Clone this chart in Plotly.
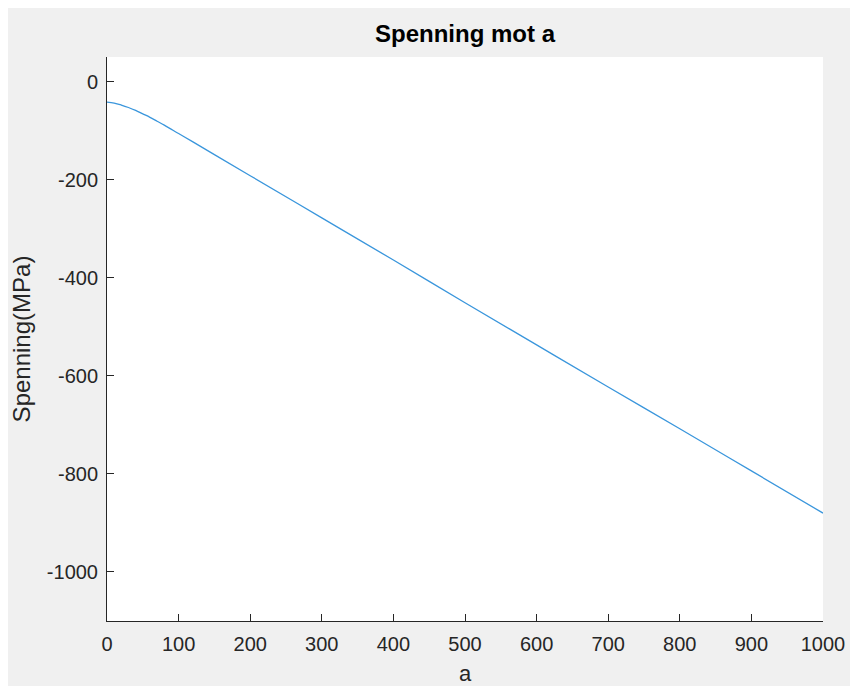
import plotly.graph_objects as go

# Data
a_values = [0, 10, 20, 30, 40, 50, 60, 70, 80, 100, 120, 150, 200, 300, 400,
            500, 600, 700, 800, 900, 1000]
spenning = [-42, -44, -48, -53, -59, -66, -73, -81, -89, -106, -123, -149, -192,
            -278, -364, -451, -537, -623, -708, -794, -880]

x_ticks = list(range(0, 1001, 100))
y_ticks = list(range(-1000, 1, 200))
y_tick_labels = [str(v) for v in y_ticks]  # plain hyphen minus like the original

# The page adds an 8px body margin, so the figure starts at (8, 8)
W, H = 850, 678
L, R, T, B = 99, 35, 49, 65

FONT = "Liberation Sans, Arial, Helvetica, sans-serif"
AXC = "#262626"

fig = go.Figure()
fig.add_trace(go.Scatter(x=a_values, y=spenning, mode="lines",
                         line=dict(color="#3a96dc", width=1.3),
                         line_shape="spline", showlegend=False))

fig.update_layout(
    width=W, height=H,
    margin=dict(l=L, r=R, t=T, b=B),
    paper_bgcolor="#f0f0f0",
    plot_bgcolor="white",
    font=dict(family=FONT, color=AXC, size=20),
    title=dict(text="<b>Spenning mot a</b>", x=0.5, xref="paper", xanchor="center",
               y=1 - 26 / H, yref="container", yanchor="middle",
               font=dict(family=FONT, size=24, color="black")),
    xaxis=dict(range=[0, 1000], tickvals=x_ticks, ticks="inside", ticklen=7,
               tickcolor=AXC, showline=True, linecolor=AXC, linewidth=1,
               showgrid=False, zeroline=False, mirror=False, automargin=False,
               tickfont=dict(size=20, color=AXC), ticklabelstandoff=5,
               title=dict(text="a", standoff=14, font=dict(size=22, color=AXC))),
    yaxis=dict(range=[-1100, 50], tickvals=y_ticks, ticktext=y_tick_labels,
               ticks="inside", ticklen=7, automargin=False,
               tickcolor=AXC, showline=True, linecolor=AXC, linewidth=1,
               showgrid=False, zeroline=False, mirror=False,
               tickfont=dict(size=20, color=AXC), ticklabelstandoff=4,
               title=dict(text="Spenning(MPa)", standoff=10, font=dict(size=24, color=AXC))),
)

fig.write_html("out.html")
